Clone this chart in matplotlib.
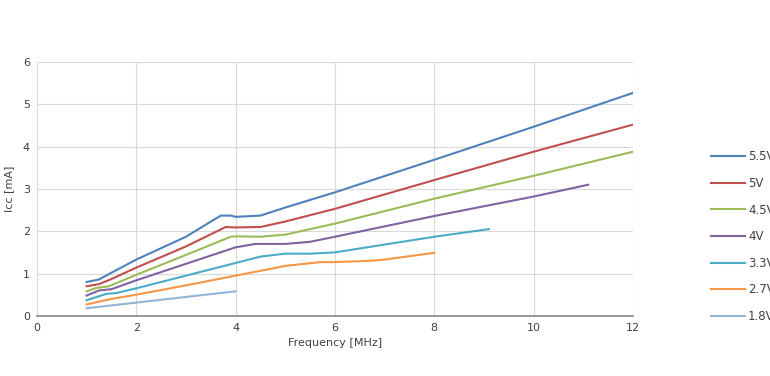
import matplotlib
matplotlib.use("Agg")
import matplotlib.pyplot as plt

# Icc vs frequency for several supply voltages
labels = ["5.5V", "5V", "4.5V", "4V", "3.3V", "2.7V", "1.8V"]
colors = ["#4F81BD", "#C0504D", "#9BBB59", "#8064A2", "#4BACC6", "#F79646", "#95B3D7"]

f_55 = [1, 1.25, 1.5, 2, 3, 3.7, 3.9, 4, 4.5, 5, 6, 8, 10, 12]
i_55 = [0.8, 0.86, 1.02, 1.33, 1.87, 2.37, 2.37, 2.34, 2.37, 2.56, 2.92, 3.69, 4.47, 5.27]

f_5 = [1, 1.25, 1.5, 2, 3, 3.8, 4, 4.5, 5, 6, 8, 10, 12]
i_5 = [0.7, 0.75, 0.87, 1.14, 1.64, 2.1, 2.09, 2.1, 2.23, 2.53, 3.21, 3.88, 4.52]

f_45 = [1, 1.2, 1.45, 2, 3, 3.9, 4, 4.5, 5, 6, 8, 10, 12]
i_45 = [0.58, 0.66, 0.7, 0.97, 1.44, 1.87, 1.88, 1.87, 1.92, 2.18, 2.77, 3.31, 3.88]

f_4 = [1, 1.25, 1.5, 2, 3, 4, 4.4, 5, 5.5, 6, 8, 10, 11.1]
i_4 = [0.48, 0.6, 0.63, 0.84, 1.23, 1.62, 1.7, 1.7, 1.75, 1.87, 2.36, 2.82, 3.1]

f_33 = [1, 1.4, 1.6, 2, 3, 4, 4.5, 5, 5.5, 6, 8, 9.1]
i_33 = [0.37, 0.52, 0.54, 0.65, 0.95, 1.25, 1.4, 1.47, 1.47, 1.5, 1.87, 2.05]

f_27 = [1, 1.5, 2, 3, 4, 5, 5.7, 6, 6.7, 7, 8]
i_27 = [0.27, 0.4, 0.5, 0.72, 0.95, 1.18, 1.27, 1.27, 1.3, 1.33, 1.49]

f_18 = [1, 4]
i_18 = [0.18, 0.58]

freqs = [f_55, f_5, f_45, f_4, f_33, f_27, f_18]
currents = [i_55, i_5, i_45, i_4, i_33, i_27, i_18]

plt.rcParams["font.family"] = ["DejaVu Sans"]

fig = plt.figure(figsize=(7.7, 3.76), dpi=100)
ax = fig.add_axes([0.048, 0.16, 0.774, 0.675])

for f, i, lab, c in zip(freqs, currents, labels, colors):
    ax.plot(f, i, color=c, lw=1.5, label=lab)

ax.set_xlim(0, 12)
ax.set_ylim(0, 6)
ax.set_xticks(range(0, 13, 2))
ax.set_yticks(range(0, 7))
ax.grid(True, color="#D9D9D9", lw=0.8)
ax.set_axisbelow(True)
ax.tick_params(length=0, labelsize=8, colors="#404040", pad=5)
for s in ["top", "right"]:
    ax.spines[s].set_visible(False)
ax.spines["left"].set_color("#D9D9D9")
ax.spines["bottom"].set_color("#868686")
ax.spines["bottom"].set_linewidth(1.2)
ax.set_xlabel("Frequency [MHz]", fontsize=8, color="#404040", labelpad=4)
ax.set_ylabel("Icc [mA]", fontsize=8, color="#404040", labelpad=6)

fig.legend(loc="upper left", bbox_to_anchor=(0.924, 0.6), frameon=False,
           fontsize=8.5, handlelength=2.8, handletextpad=0.3, labelspacing=1.15,
           borderaxespad=0, borderpad=0, labelcolor="#404040")

fig.savefig("out.png", dpi=100)
